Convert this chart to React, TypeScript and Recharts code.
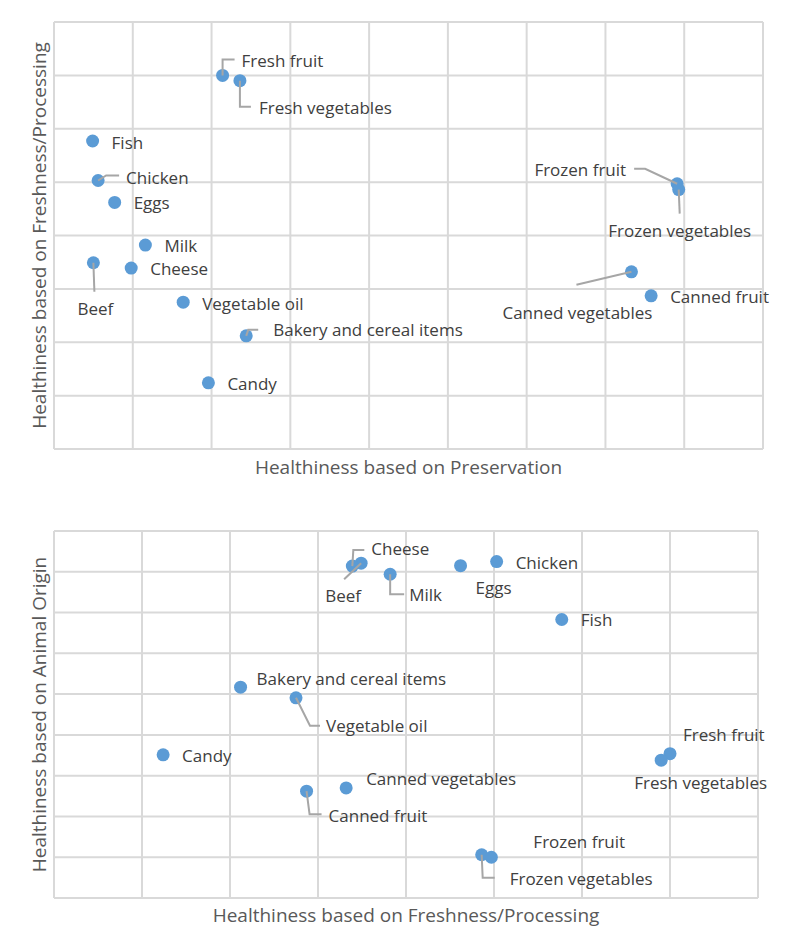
import React from 'react';
import { ScatterChart, Scatter, XAxis, YAxis, CartesianGrid, Label } from 'recharts';

// food groups and their scores on the three healthiness scales
const foods = [
  'Fresh fruit', 'Fresh vegetables', 'Fish', 'Chicken', 'Eggs', 'Milk', 'Beef', 'Cheese',
  'Vegetable oil', 'Bakery and cereal items', 'Candy', 'Frozen fruit', 'Frozen vegetables',
  'Canned vegetables', 'Canned fruit',
];
const preservation = [2.14, 2.36, 0.49, 0.56, 0.77, 1.16, 0.5, 0.98, 1.64, 2.44, 1.96, 7.91, 7.93, 7.33, 7.58];
const freshness = [7.0, 6.9, 5.77, 5.03, 4.62, 3.82, 3.49, 3.39, 2.75, 2.12, 1.24, 4.97, 4.86, 3.32, 2.87];
const animalOrigin = [3.54, 3.38, 6.83, 8.25, 8.15, 7.94, 8.21, 8.14, 4.91, 5.17, 3.51, 1.0, 1.06, 2.7, 2.62];

const topXTicks = [0, 1, 2, 3, 4, 5, 6, 7, 8, 9];
const topYTicks = [0, 1, 2, 3, 4, 5, 6, 7, 8];
const bottomXTicks = [0, 1, 2, 3, 4, 5, 6, 7, 8];
const bottomYTicks = [0, 1, 2, 3, 4, 5, 6, 7, 8, 9];

const topData = foods.map((name, i) => ({ name, x: preservation[i], y: freshness[i] }));
const bottomData = foods.map((name, i) => ({ name, x: freshness[i], y: animalOrigin[i] }));

const FONT = "'Open Sans', sans-serif";
const DOT = '#5B9BD5';
const GRID = '#d9d9d9';
const LABEL_COLOR = '#404040';
const TITLE_COLOR = '#595959';
const LEADER = '#a6a6a6';

type LabelPos = { dx: number; dy: number; anchor?: 'start' | 'middle' | 'end'; leader?: number[][] };

// manual label placement, like moved data labels in a spreadsheet chart
const topLabels: Record<string, LabelPos> = {
  'Fresh fruit': { dx: 19, dy: -15, leader: [[0, 0], [0, -16], [12, -16]] },
  'Fresh vegetables': { dx: 19, dy: 27, leader: [[0, 0], [0, 26], [11, 26]] },
  Fish: { dx: 19, dy: 1 },
  Chicken: { dx: 28, dy: -3, leader: [[0, 0], [8, -5], [21, -5]] },
  Eggs: { dx: 19, dy: 0 },
  Milk: { dx: 19, dy: 0 },
  Beef: { dx: 2, dy: 46, anchor: 'middle', leader: [[0, 0], [1, 29]] },
  Cheese: { dx: 19, dy: 0 },
  'Vegetable oil': { dx: 19, dy: 1 },
  'Bakery and cereal items': { dx: 27, dy: -6, leader: [[0, 0], [2, -6], [12, -6]] },
  Candy: { dx: 19, dy: 1 },
  'Frozen fruit': { dx: -51, dy: -14, anchor: 'end', leader: [[-43, -15], [-32, -15], [0, 0]] },
  'Frozen vegetables': { dx: 1, dy: 41, anchor: 'middle', leader: [[0, 0], [1, 24]] },
  'Canned vegetables': { dx: -54, dy: 41, anchor: 'middle', leader: [[-55, 13], [0, 0]] },
  'Canned fruit': { dx: 19, dy: 1 },
};

const bottomLabels: Record<string, LabelPos> = {
  'Fresh fruit': { dx: 13, dy: -19 },
  'Fresh vegetables': { dx: -27, dy: 22 },
  Fish: { dx: 19, dy: 0 },
  Chicken: { dx: 19, dy: 1 },
  Eggs: { dx: 15, dy: 22 },
  Milk: { dx: 19, dy: 20, leader: [[0, 0], [0, 20], [14, 20]] },
  Beef: { dx: -18, dy: 32, anchor: 'middle', leader: [[-17, 16], [0, 0]] },
  Cheese: { dx: 19, dy: -18, leader: [[0, 0], [1, -16], [12, -16]] },
  'Vegetable oil': { dx: 30, dy: 28, leader: [[0, 0], [14, 28], [24, 28]] },
  'Bakery and cereal items': { dx: 16, dy: -9 },
  Candy: { dx: 19, dy: 1 },
  'Frozen fruit': { dx: 42, dy: -16 },
  'Frozen vegetables': { dx: 28, dy: 24, leader: [[0, 0], [1, 23], [13, 23]] },
  'Canned vegetables': { dx: 20, dy: -9 },
  'Canned fruit': { dx: 22, dy: 24, leader: [[0, 0], [3, 23], [15, 23]] },
};

const Dot = (props: any) => {
  const { cx, cy } = props;
  return <circle cx={cx} cy={cy} r={6.5} fill={DOT} />;
};

// axes keep their ticks for the grid, but draw nothing
const NoTick = () => <g />;

const makeLabelShape = (layout: Record<string, LabelPos>) => (props: any) => {
  const { cx, cy, payload } = props;
  const pos = layout[payload.name];
  if (!pos) return <g />;
  const d = pos.leader
    ? pos.leader.map((p, i) => `${i === 0 ? 'M' : 'L'}${cx + p[0]},${cy + p[1]}`).join(' ')
    : null;
  return (
    <g>
      {d && <path d={d} fill="none" stroke={LEADER} strokeWidth={2} />}
      <text
        x={cx + pos.dx}
        y={cy + pos.dy}
        textAnchor={pos.anchor || 'start'}
        dominantBaseline="central"
        fontFamily={FONT}
        fontSize={17}
        fill={LABEL_COLOR}
      >
        {payload.name}
      </text>
    </g>
  );
};

const xTitle = (text: string, gap: number) => (props: any) => {
  const { x, y, width, height } = props.viewBox;
  return (
    <text
      x={x + width / 2}
      y={y + height + gap}
      textAnchor="middle"
      dominantBaseline="central"
      fontFamily={FONT}
      fontSize={19}
      fill={TITLE_COLOR}
    >
      {text}
    </text>
  );
};

const yTitle = (text: string, gap: number) => (props: any) => {
  const { x, y, height } = props.viewBox;
  const tx = x - gap;
  const ty = y + height / 2;
  return (
    <text
      x={tx}
      y={ty}
      transform={`rotate(-90, ${tx}, ${ty})`}
      textAnchor="middle"
      dominantBaseline="central"
      fontFamily={FONT}
      fontSize={19}
      fill={TITLE_COLOR}
    >
      {text}
    </text>
  );
};

interface FoodChartProps {
  data: { name: string; x: number; y: number }[];
  xTicks: number[];
  yTicks: number[];
  labels: Record<string, LabelPos>;
  xLabel: string;
  yLabel: string;
  height: number;
  margin: { top: number; right: number; bottom: number; left: number };
  xGap: number;
}

const FoodChart = ({ data, xTicks, yTicks, labels, xLabel, yLabel, height, margin, xGap }: FoodChartProps) => (
  <ScatterChart width={800} height={height} margin={margin}>
    <CartesianGrid stroke={GRID} strokeWidth={2} />
    <XAxis
      type="number"
      dataKey="x"
      domain={[xTicks[0], xTicks[xTicks.length - 1]]}
      ticks={xTicks}
      height={1}
      tick={NoTick}
      tickLine={false}
      axisLine={false}
    >
      <Label content={xTitle(xLabel, xGap)} />
    </XAxis>
    <YAxis
      type="number"
      dataKey="y"
      domain={[yTicks[0], yTicks[yTicks.length - 1]]}
      ticks={yTicks}
      width={1}
      tick={NoTick}
      tickLine={false}
      axisLine={false}
    >
      <Label content={yTitle(yLabel, 14)} />
    </YAxis>
    <Scatter data={data} shape={Dot} isAnimationActive={false} />
    <Scatter data={data} shape={makeLabelShape(labels)} isAnimationActive={false} />
  </ScatterChart>
);

export default function App() {
  return (
    <div style={{ position: 'absolute', left: 0, top: 0, width: 800, height: 937, background: '#fff' }}>
      <div style={{ position: 'absolute', left: 0, top: 0 }}>
        <FoodChart
          data={topData}
          xTicks={topXTicks}
          yTicks={topYTicks}
          labels={topLabels}
          xLabel="Healthiness based on Preservation"
          yLabel="Healthiness based on Freshness/Processing"
          height={480}
          margin={{ top: 22, right: 37, bottom: 30, left: 53 }}
          xGap={17}
        />
      </div>
      <div style={{ position: 'absolute', left: 0, top: 500 }}>
        <FoodChart
          data={bottomData}
          xTicks={bottomXTicks}
          yTicks={bottomYTicks}
          labels={bottomLabels}
          xLabel="Healthiness based on Freshness/Processing"
          yLabel="Healthiness based on Animal Origin"
          height={437}
          margin={{ top: 31, right: 42, bottom: 38, left: 53 }}
          xGap={16}
        />
      </div>
    </div>
  );
}
